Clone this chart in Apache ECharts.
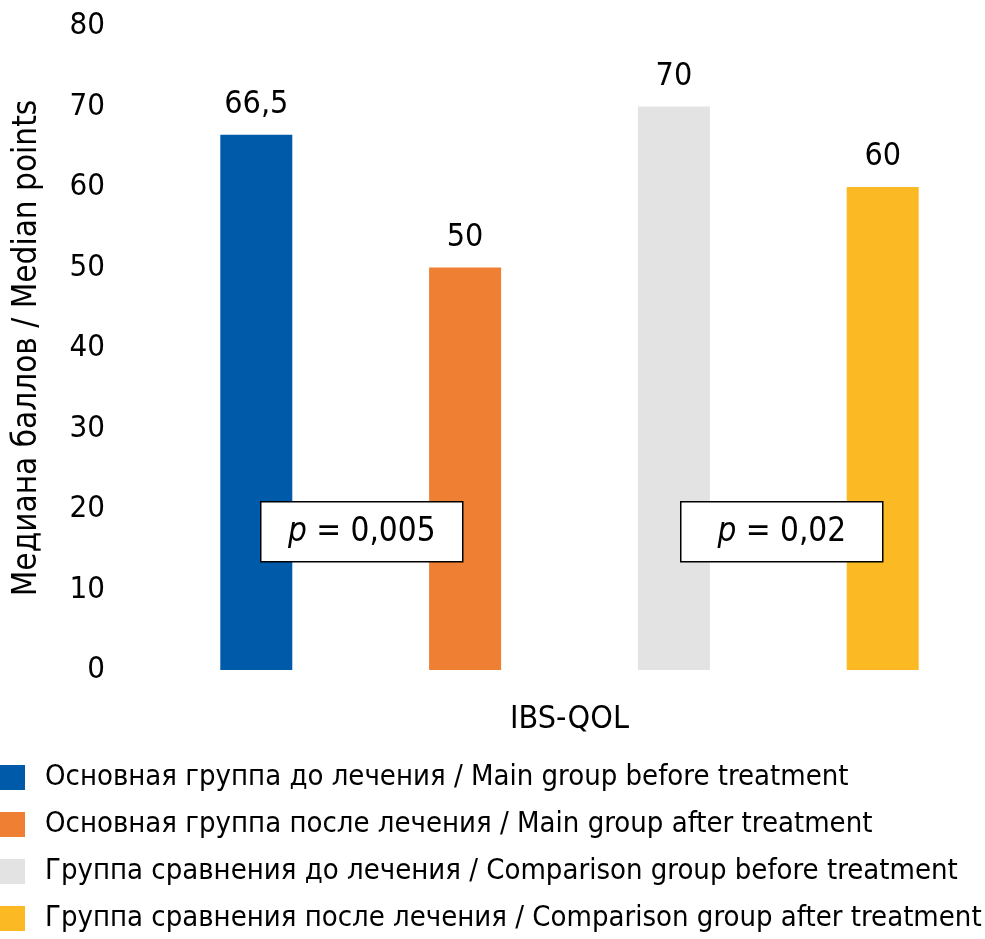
<!DOCTYPE html>
<html><head><meta charset="utf-8">
<script src="https://cdn.jsdelivr.net/npm/echarts@6/dist/echarts.min.js"></script>
<style>html,body{margin:0;padding:0;background:#fff}#c{width:985px;height:939px}</style>
</head><body><div id="c"></div>
<script>
var categories = ['IBS-QOL'];
var seriesNames = [
  'Основная группа до лечения / Main group before treatment',
  'Основная группа после лечения / Main group after treatment',
  'Группа сравнения до лечения / Comparison group before treatment',
  'Группа сравнения после лечения / Comparison group after treatment'
];
var seriesValues = [66.5, 50, 70, 60];
var seriesColors = ['#005AAA', '#EF7F32', '#E3E3E3', '#FBB923'];
var yTicks = [0, 80, 10];
var pLabels = ['0,005', '0,02'];
var FONT = "'DejaVu Sans Condensed','Roboto',sans-serif";

var chart = echarts.init(document.getElementById('c'));
var series = seriesNames.map(function (n, i) {
  return {
    name: n, type: 'bar', data: [seriesValues[i]],
    barWidth: 72, barGap: '190%',
    itemStyle: { color: seriesColors[i] },
    label: { show: true, position: 'top', distance: 14, color: '#000', fontSize: 32, fontFamily: FONT,
      formatter: function (p) { return String(p.value).replace('.', ','); } }
  };
});
chart.setOption({
  animation: false,
  textStyle: { fontFamily: FONT },
  grid: { left: 155, right: 1, top: 26, bottom: 269, containLabel: false, outerBoundsMode: 'none' },
  legend: {
    orient: 'vertical', left: 0, top: 763, height: 176, itemWidth: 25, itemHeight: 25, itemGap: 18,
    icon: 'rect', selectedMode: false, padding: 0,
    textStyle: { fontSize: 29, color: '#000', fontFamily: FONT, padding: [0, 0, 0, 15] },
    data: seriesNames
  },
  xAxis: {
    type: 'category', data: categories,
    axisLine: { show: false }, axisTick: { show: false },
    axisLabel: { color: '#000', fontSize: 32, margin: 34, fontFamily: FONT }
  },
  yAxis: {
    type: 'value', min: yTicks[0], max: yTicks[1], interval: yTicks[2],
    name: 'Медиана баллов / Median points', nameLocation: 'middle', nameGap: 111,
    nameTextStyle: { color: '#000', fontSize: 33, fontFamily: FONT },
    axisLine: { show: false }, axisTick: { show: false }, splitLine: { show: false },
    axisLabel: { color: '#000', fontSize: 31, margin: 50, fontFamily: FONT }
  },
  series: series
});

function pBox(x, label) {
  return {
    type: 'group', left: x, top: 501, z: 100,
    children: [
      { type: 'rect', z: 100, shape: { x: 0, y: 0, width: 202, height: 60 },
        style: { fill: '#fff', stroke: '#000', lineWidth: 1.5 } },
      { type: 'text', z: 101, x: 101, y: 31,
        style: { text: '{i|p} = ' + label, align: 'center', verticalAlign: 'middle',
          fontSize: 33, fill: '#000', fontFamily: FONT,
          rich: { i: { fontStyle: 'italic', fontSize: 33, fontFamily: FONT, fill: '#000' } } } }
    ]
  };
}
chart.setOption({ graphic: [pBox(260, pLabels[0]), pBox(680, pLabels[1])] });
</script></body></html>
